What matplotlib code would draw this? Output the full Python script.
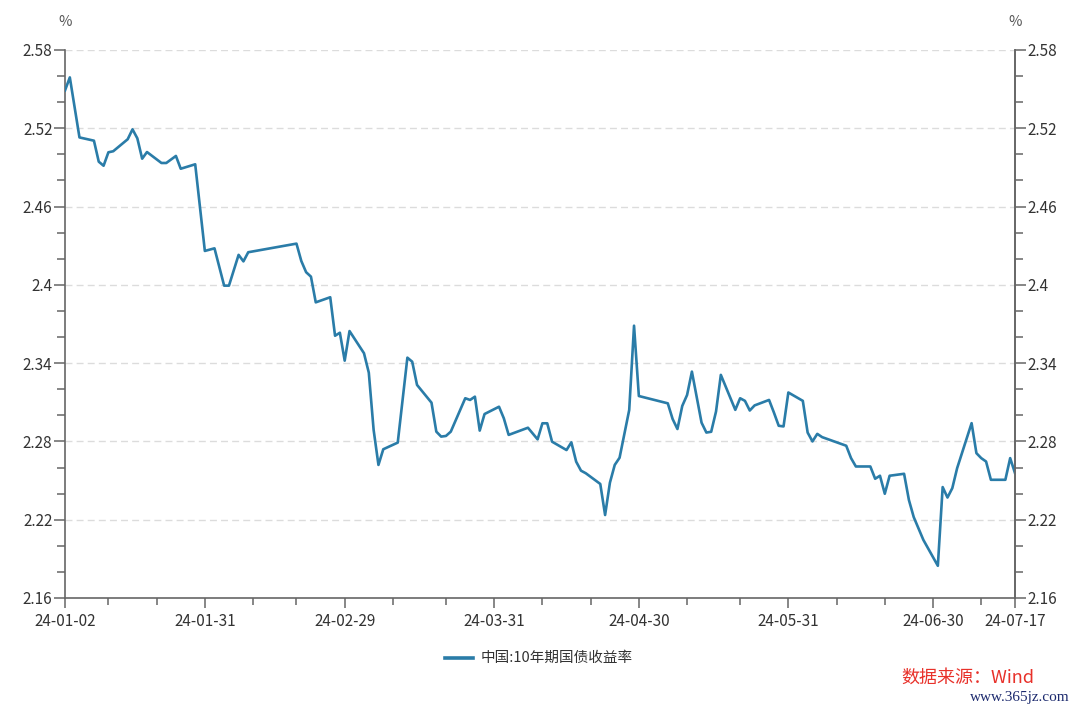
import matplotlib
matplotlib.use("Agg")
import matplotlib.pyplot as plt
import matplotlib.dates as mdates
from matplotlib.ticker import MultipleLocator, FixedLocator
import pandas as pd

plt.rcParams['font.family'] = ['Noto Sans CJK SC', 'DejaVu Sans']

dates = [
    "2024-01-02", "2024-01-03", "2024-01-05", "2024-01-08", "2024-01-09", "2024-01-10",
    "2024-01-11", "2024-01-12", "2024-01-15", "2024-01-16", "2024-01-17", "2024-01-18",
    "2024-01-19", "2024-01-22", "2024-01-23", "2024-01-25", "2024-01-26", "2024-01-29",
    "2024-01-31", "2024-02-02", "2024-02-04", "2024-02-05", "2024-02-07", "2024-02-08",
    "2024-02-09", "2024-02-19", "2024-02-20", "2024-02-21", "2024-02-22", "2024-02-23",
    "2024-02-26", "2024-02-27", "2024-02-28", "2024-02-29", "2024-03-01", "2024-03-04",
    "2024-03-05", "2024-03-06", "2024-03-07", "2024-03-08", "2024-03-11", "2024-03-13",
    "2024-03-14", "2024-03-15", "2024-03-18", "2024-03-19", "2024-03-20", "2024-03-21",
    "2024-03-22", "2024-03-25", "2024-03-26", "2024-03-27", "2024-03-28", "2024-03-29",
    "2024-04-01", "2024-04-02", "2024-04-03", "2024-04-07", "2024-04-09", "2024-04-10",
    "2024-04-11", "2024-04-12", "2024-04-15", "2024-04-16", "2024-04-17", "2024-04-18",
    "2024-04-19", "2024-04-22", "2024-04-23", "2024-04-24", "2024-04-25", "2024-04-26",
    "2024-04-28", "2024-04-29", "2024-04-30", "2024-05-06", "2024-05-07", "2024-05-08",
    "2024-05-09", "2024-05-10", "2024-05-11", "2024-05-13", "2024-05-14", "2024-05-15",
    "2024-05-16", "2024-05-17", "2024-05-20", "2024-05-21", "2024-05-22", "2024-05-23",
    "2024-05-24", "2024-05-27", "2024-05-28", "2024-05-29", "2024-05-30", "2024-05-31",
    "2024-06-03", "2024-06-04", "2024-06-05", "2024-06-06", "2024-06-07", "2024-06-12",
    "2024-06-13", "2024-06-14", "2024-06-17", "2024-06-18", "2024-06-19", "2024-06-20",
    "2024-06-21", "2024-06-24", "2024-06-25", "2024-06-26", "2024-06-28", "2024-07-01",
    "2024-07-02", "2024-07-03", "2024-07-04", "2024-07-05", "2024-07-08", "2024-07-09",
    "2024-07-10", "2024-07-11", "2024-07-12", "2024-07-15", "2024-07-16", "2024-07-17",
]
yields = [
    2.549, 2.559, 2.513, 2.5105, 2.4944, 2.4913,
    2.5016, 2.5024, 2.5116, 2.5192, 2.5123, 2.4967,
    2.5018, 2.4934, 2.4934, 2.4988, 2.489, 2.4924,
    2.426, 2.428, 2.3994, 2.3994, 2.423, 2.418,
    2.425, 2.4316, 2.4183, 2.4097, 2.4063, 2.3866,
    2.3905, 2.361, 2.3633, 2.3419, 2.3646, 2.3476,
    2.3327, 2.2888, 2.262, 2.274, 2.2791, 2.3442,
    2.3411, 2.3233, 2.3097, 2.2875, 2.2837, 2.2842,
    2.2875, 2.3131, 2.3118, 2.3143, 2.2883, 2.301,
    2.3066, 2.2977, 2.285, 2.2905, 2.2816, 2.2939,
    2.2939, 2.2798, 2.2734, 2.2793, 2.2645, 2.2576,
    2.2556, 2.2474, 2.2236, 2.2484, 2.262, 2.2675,
    2.3041, 2.3687, 2.3148, 2.3092, 2.2972, 2.2895,
    2.3072, 2.3156, 2.3335, 2.2944, 2.2868, 2.2874,
    2.3029, 2.331, 2.3042, 2.3131, 2.3111, 2.3037,
    2.3076, 2.3118, 2.3022, 2.292, 2.2915, 2.3175,
    2.3111, 2.2868, 2.280, 2.2858, 2.2833, 2.2767,
    2.2672, 2.2608, 2.2608, 2.2514, 2.2537, 2.2399,
    2.2537, 2.2552, 2.2351, 2.222, 2.2045, 2.1847,
    2.245, 2.237, 2.2442, 2.2595, 2.294, 2.271,
    2.2672, 2.2646, 2.2506, 2.2506, 2.2672, 2.2557,
]

major_dates = ["2024-01-02", "2024-01-31", "2024-02-29", "2024-03-31",
               "2024-04-30", "2024-05-31", "2024-06-30", "2024-07-17"]
minor_dates = ["2024-01-11", "2024-01-21", "2024-02-10", "2024-02-19",
               "2024-03-10", "2024-03-21", "2024-04-10", "2024-04-20",
               "2024-05-10", "2024-05-21", "2024-06-10", "2024-06-20",
               "2024-07-10"]
y_major = [2.16, 2.22, 2.28, 2.34, 2.4, 2.46, 2.52, 2.58]
y_labels = ["2.16", "2.22", "2.28", "2.34", "2.4", "2.46", "2.52", "2.58"]
series_name = "中国:10年期国债收益率"

line_color = "#2a7ca8"
axis_color = "#666666"
text_color = "#333333"
tick_fs = 11

x = pd.to_datetime(dates)
fig = plt.figure(figsize=(10.8, 7.05), dpi=100)
ax = fig.add_axes([65/1080, 1-598/705, 950/1080, 548/705])

ax.plot(x, yields, color=line_color, lw=1.9, solid_joinstyle='round', zorder=3)

ax.set_xlim(pd.Timestamp(major_dates[0]), pd.Timestamp(major_dates[-1]))
ax.set_ylim(2.16, 2.58)

ax.xaxis.set_major_locator(FixedLocator(mdates.date2num(pd.to_datetime(major_dates))))
ax.xaxis.set_minor_locator(FixedLocator(mdates.date2num(pd.to_datetime(minor_dates))))
ax.xaxis.set_major_formatter(mdates.DateFormatter("%y-%m-%d"))

ax.yaxis.set_major_locator(FixedLocator(y_major))
ax.set_yticklabels(y_labels)
ax.yaxis.set_minor_locator(MultipleLocator(0.02))

ax.spines['top'].set_visible(False)
for s in ['left', 'right', 'bottom']:
    ax.spines[s].set_color(axis_color)
    ax.spines[s].set_linewidth(1.2)

ax.tick_params(axis='y', which='major', length=8, width=1.1, color=axis_color,
               labelsize=tick_fs, labelcolor=text_color, pad=1)
ax.tick_params(axis='y', which='minor', length=5.5, width=1.1, color=axis_color)
ax.tick_params(axis='x', which='major', length=7, width=1.1, color=axis_color,
               labelsize=tick_fs, labelcolor=text_color, pad=4)
ax.tick_params(axis='x', which='minor', length=5, width=1.1, color=axis_color)

for v in y_major[1:]:
    ax.axhline(v, color="#dcdcdc", lw=1.0, ls=(0, (5, 3)), zorder=1)

ax2 = ax.twinx()
ax2.set_ylim(2.16, 2.58)
ax2.yaxis.set_major_locator(FixedLocator(y_major))
ax2.set_yticklabels(y_labels)
ax2.yaxis.set_minor_locator(MultipleLocator(0.02))
ax2.spines['top'].set_visible(False)
ax2.spines['left'].set_visible(False)
ax2.spines['bottom'].set_visible(False)
ax2.spines['right'].set_color(axis_color)
ax2.spines['right'].set_linewidth(1.2)
ax2.tick_params(axis='y', which='major', length=8, width=1.1, color=axis_color,
                labelsize=tick_fs, labelcolor=text_color, pad=1)
ax2.tick_params(axis='y', which='minor', length=5.5, width=1.1, color=axis_color)

fig.text(65/1080, 1-22/705, "%", ha='center', va='center', fontsize=10.5, color="#555555")
fig.text(1015/1080, 1-22/705, "%", ha='center', va='center', fontsize=10.5, color="#555555")

# legend
ly = 1-658/705
fig.add_artist(plt.Line2D([445/1080, 473/1080], [ly, ly], color=line_color, lw=2.6,
                          transform=fig.transFigure))
fig.text(481/1080, ly, series_name, ha='left', va='center', fontsize=10.5, color=text_color)

fig.text(901/1080, 1-678/705, "数据来源：Wind", ha='left', va='center', fontsize=13,
         color="#e8312a")
fig.text(1070/1080, 1-697/705, "www.365jz.com", ha='right', va='center', fontsize=11,
         color="#1c2a6e", family=['Liberation Serif', 'DejaVu Serif'])

fig.savefig("out.png", dpi=100)
